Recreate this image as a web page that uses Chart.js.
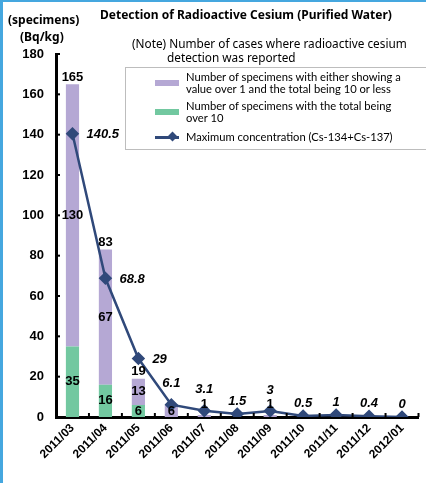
<!DOCTYPE html>
<html>
<head>
<meta charset="utf-8">
<script src="https://cdn.jsdelivr.net/npm/chart.js@4/dist/chart.umd.min.js"></script>
<style>
  body { margin: 0; background: #fff; }
  #wrap { position: relative; width: 426px; height: 483px; overflow: hidden; }
  #chart { position: absolute; left: 0; top: 0; }
  .txt { position: absolute; white-space: nowrap; color: #000; }
  .head { font: bold 12px "Noto Sans", sans-serif; }
  .note { font: 11.8px "Noto Sans", sans-serif; }
  #legend { position: absolute; left: 125px; top: 67px; width: 320px; height: 83px; border: 1px solid #bdbdbd; box-sizing: border-box; }
  .item { position: absolute; left: 60px; font: 11.2px Lato, sans-serif; line-height: 12px; white-space: nowrap; }
  .sw { position: absolute; left: 29px; width: 24px; }
  .bl { position: absolute; background: #45a7df; }
</style>
</head>
<body>
<div id="wrap">
  <canvas id="chart" width="426" height="483"></canvas>
  <div class="txt head" style="left:100px;top:6px;">Detection of Radioactive Cesium (Purified Water)</div>
  <div class="txt head" style="left:8px;top:11px;">(specimens)</div>
  <div class="txt head" style="left:20px;top:28px;">(Bq/kg)</div>
  <div class="txt note" style="left:132px;top:35px;">(Note) Number of cases where radioactive cesium</div>
  <div class="txt note" style="left:167px;top:49px;">detection was reported</div>
  <div id="legend"></div>
  <div class="bl" style="left:0;top:0;width:426px;height:2px;"></div>
  <div class="bl" style="left:0;top:0;width:3px;height:483px;"></div>
</div>
<script>
const months = ['2011/03', '2011/04', '2011/05', '2011/06', '2011/07', '2011/08', '2011/09', '2011/10', '2011/11', '2011/12', '2012/01'];
const over10 = [35, 16, 6, 0, 0, 0, 0, 0, 0, 0, 0];
const upTo10 = [130, 67, 13, 6, 1, 0, 1, 0, 0, 0, 0];
const maxConc = [140.5, 68.8, 29, 6.1, 3.1, 1.5, 3, 0.5, 1, 0.4, 0];
const yMin = 0, yMax = 180, yStep = 20;

const purple = '#b5a8d4';
const green = '#72c8a0';
const navy = '#30497a';

Chart.defaults.font.family = '"Liberation Sans", Arial, sans-serif';
Chart.defaults.color = '#000';

// small inward tick marks on both axes
const tickMarks = {
  id: 'tickMarks',
  afterDraw(chart) {
    const { ctx, chartArea } = chart;
    const xs = chart.scales.x, ys = chart.scales.y;
    ctx.save();
    ctx.strokeStyle = '#000';
    ctx.lineWidth = 2;
    ys.ticks.forEach(t => {
      const y = ys.getPixelForValue(t.value);
      ctx.beginPath();
      ctx.moveTo(chartArea.left, y);
      ctx.lineTo(chartArea.left + 4, y);
      ctx.stroke();
    });
    const half = (xs.getPixelForValue(1) - xs.getPixelForValue(0)) / 2;
    for (let i = 0; i < months.length; i++) {
      const x = xs.getPixelForValue(i) + half;
      ctx.beginPath();
      ctx.moveTo(x, chartArea.bottom);
      ctx.lineTo(x, chartArea.bottom - 4);
      ctx.stroke();
    }
    ctx.restore();
  }
};

const valueLabels = {
  id: 'valueLabels',
  afterDatasetsDraw(chart) {
    const ctx = chart.ctx;
    const g = chart.getDatasetMeta(0).data;
    const p = chart.getDatasetMeta(1).data;
    const l = chart.getDatasetMeta(2).data;
    ctx.save();
    ctx.fillStyle = '#000';
    ctx.textAlign = 'center';
    ctx.textBaseline = 'middle';
    ctx.font = 'bold 13px "Liberation Sans", Arial, sans-serif';
    months.forEach((m, i) => {
      if (over10[i] > 0) {
        ctx.fillText(String(over10[i]), g[i].x, (g[i].y + g[i].base) / 2);
        ctx.fillText(String(upTo10[i]), p[i].x, (p[i].y + p[i].base) / 2);
        ctx.fillText(String(over10[i] + upTo10[i]), p[i].x, p[i].y - 7);
      } else if (upTo10[i] > 0) {
        const h = p[i].base - p[i].y;
        ctx.fillText(String(upTo10[i]), p[i].x, h > 10 ? (p[i].y + p[i].base) / 2 : p[i].y - 11);
      }
    });
    ctx.font = 'italic bold 13px "Liberation Sans", Arial, sans-serif';
    l.forEach((pt, i) => {
      if (i < 3) {
        ctx.textAlign = 'left';
        ctx.fillText(String(maxConc[i]), pt.x + 14, pt.y + 1);
      } else {
        ctx.textAlign = 'center';
        const lift = upTo10[i] > 0 ? 21 : 13;
        ctx.fillText(String(maxConc[i]), pt.x, pt.y - lift);
      }
    });
    ctx.restore();
  }
};

const chart = new Chart(document.getElementById('chart'), {
  type: 'bar',
  data: {
    labels: months,
    datasets: [
      {
        label: 'Number of specimens with the total being over 10',
        data: over10,
        backgroundColor: green,
        stack: 'bars',
        order: 1,
        barPercentage: 0.8,
        categoryPercentage: 0.5
      },
      {
        label: 'Number of specimens with either showing a value over 1 and the total being 10 or less',
        data: upTo10,
        backgroundColor: purple,
        stack: 'bars',
        order: 2,
        barPercentage: 0.8,
        categoryPercentage: 0.5
      },
      {
        type: 'line',
        label: 'Maximum concentration (Cs-134+Cs-137)',
        data: maxConc,
        borderColor: navy,
        backgroundColor: navy,
        borderWidth: 2.5,
        pointStyle: 'rectRot',
        pointRadius: 5,
        stack: 'line',
        order: 0,
        tension: 0
      }
    ]
  },
  options: {
    responsive: false,
    animation: false,
    layout: { padding: { top: 54, left: 0, right: 0, bottom: 0 } },
    plugins: {
      legend: { display: false },
      tooltip: { enabled: false }
    },
    scales: {
      x: {
        stacked: true,
        grid: { display: false, drawTicks: false },
        border: { color: '#000', width: 3 },
        ticks: {
          font: { size: 12, weight: 'bold' },
          maxRotation: 45,
          minRotation: 45,
          padding: 4
        },
        afterFit: s => { s.height = 66; }
      },
      y: {
        stacked: true,
        min: yMin,
        max: yMax,
        grid: { display: false, drawTicks: false },
        border: { color: '#000', width: 3 },
        ticks: {
          stepSize: yStep,
          font: { size: 13, weight: 'bold' },
          padding: 12
        },
        afterFit: s => { s.width = 56; }
      }
    }
  },
  plugins: [tickMarks, valueLabels]
});

// HTML legend built from the chart's datasets
const legend = document.getElementById('legend');
const ds = chart.data.datasets;
const rows = [
  { d: ds[1], top: 3, lines: ['Number of specimens with either showing a', 'value over 1 and the total being 10 or less'] },
  { d: ds[0], top: 32, lines: ['Number of specimens with the total being', 'over 10'] },
  { d: ds[2], top: 63, lines: ['Maximum concentration (Cs-134+Cs-137)'] }
];
rows.forEach(r => {
  const it = document.createElement('div');
  it.className = 'item';
  it.style.top = r.top + 'px';
  it.innerHTML = r.lines.join('<br>');
  legend.appendChild(it);
  const sw = document.createElement('div');
  sw.className = 'sw';
  if (r.d.type === 'line') {
    sw.style.top = (r.top + 5) + 'px';
    sw.style.height = '3px';
    sw.style.background = r.d.borderColor;
    const dm = document.createElement('div');
    dm.style.cssText = 'position:absolute;left:14px;top:-3px;width:7px;height:7px;transform:rotate(45deg);background:' + r.d.borderColor;
    sw.appendChild(dm);
  } else {
    sw.style.top = (r.top + 9) + 'px';
    sw.style.height = '6px';
    sw.style.background = r.d.backgroundColor;
  }
  legend.appendChild(sw);
});
</script>
</body>
</html>
